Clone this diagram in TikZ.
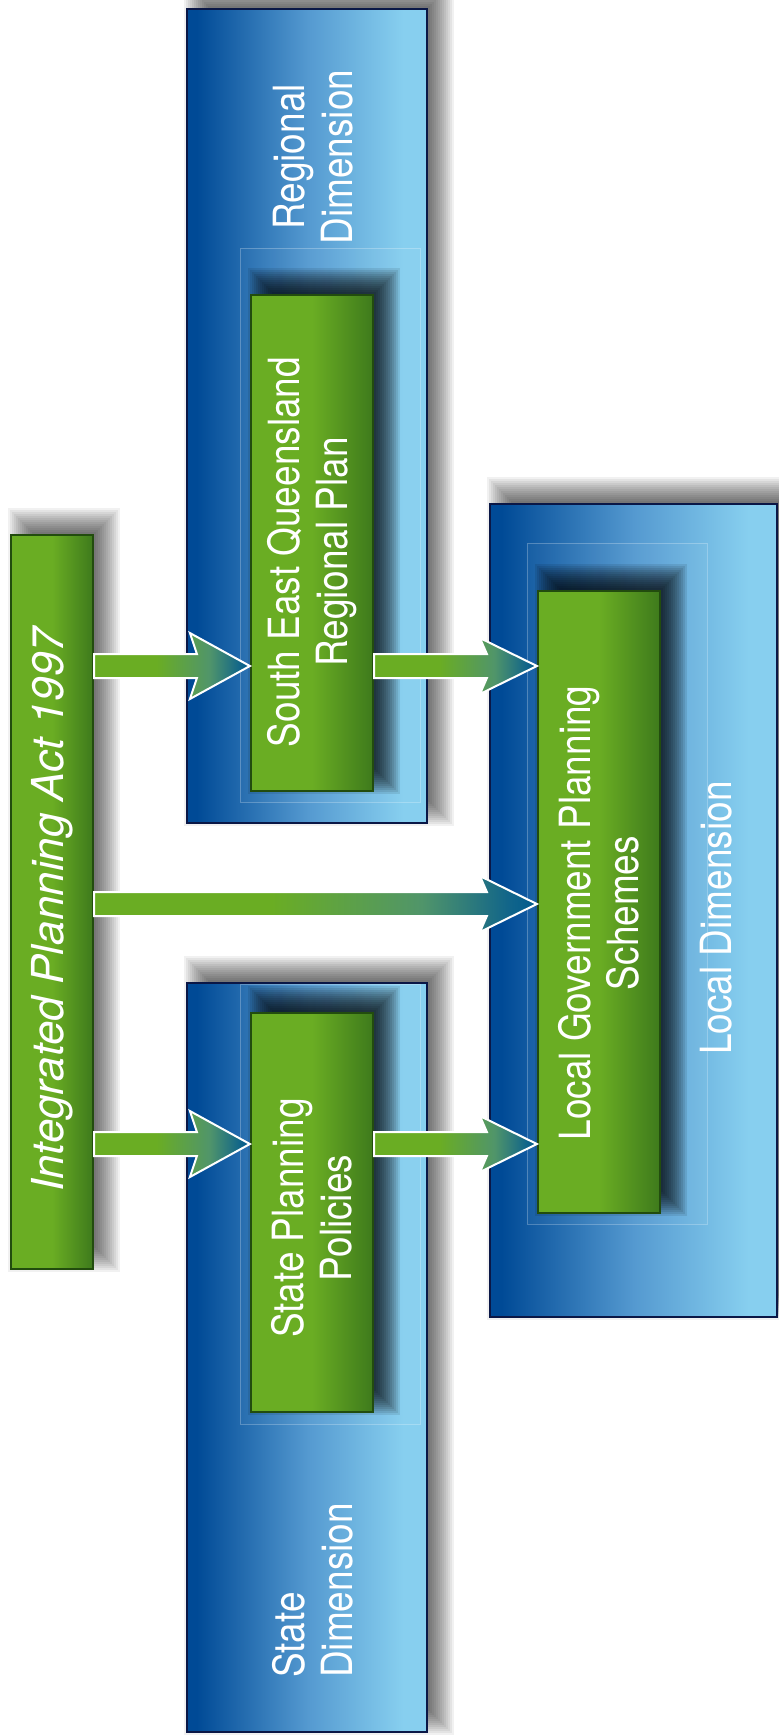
\documentclass[tikz,border=0pt]{standalone}
\usepackage{fontspec}
\setmainfont{TeX Gyre Heros}
\newfontfamily\narrowfont{TeX Gyre Heros}[FakeStretch=0.86]
\usepackage{tikz}
\usetikzlibrary{calc,positioning}
\definecolor{DeepBlue}{HTML}{004A96}
\definecolor{MidBlue}{HTML}{5499D0}
\definecolor{SkyBlue}{HTML}{87CFEF}
\definecolor{Navy}{HTML}{0A1746}
\definecolor{Leaf}{HTML}{6AAD23}
\definecolor{Moss}{HTML}{3E7A1C}
\definecolor{Forest}{HTML}{224C0E}
\definecolor{ArrowMid}{HTML}{50956A}
\definecolor{ArrowDeep}{HTML}{10648A}
\definecolor{Teal}{HTML}{005A8E}
\pgfdeclarehorizontalshading{blueshade}{100bp}{color(0bp)=(DeepBlue); color(27bp)=(DeepBlue); color(50bp)=(MidBlue); color(70bp)=(SkyBlue); color(100bp)=(SkyBlue)}
\pgfdeclarehorizontalshading{greenshade}{100bp}{color(0bp)=(Leaf); color(50bp)=(Leaf); color(75bp)=(Moss); color(100bp)=(Moss)}
\pgfdeclarehorizontalshading{arrowshade}{100bp}{color(0bp)=(Leaf); color(45bp)=(Leaf); color(62bp)=(ArrowMid); color(72bp)=(ArrowDeep); color(75bp)=(Teal); color(100bp)=(Teal)}
\pgfdeclarelayer{shadows}
\pgfdeclarelayer{panels}
\pgfdeclarelayer{boxshadows}
\pgfsetlayers{shadows,panels,boxshadows,main}
% soft shadow up and to the right of a node
\newcommand\softshadow[3]{%
  \foreach \k in {0,...,13}
    \fill[#2,opacity=#3] ($(#1.south west)+({-2+2*\k},{2-2*\k})$) rectangle ($(#1.north east)+({26-2*\k},{-26+2*\k})$);
}
% block arrow: from, to, head half width, head length
\newcommand\flowarrow[4]{%
  \shadedraw[shading=arrowshade,draw=white,line width=2pt,line join=miter]
    let \p1=(#1), \p2=(#2) in
    (\x1,\y1+12pt) -- (\x2-#4pt+7pt,\y1+12pt) -- (\x2-#4pt,\y1+#3pt) -- (\x2,\y1)
    -- (\x2-#4pt,\y1-#3pt) -- (\x2-#4pt+7pt,\y1-12pt) -- (\x1,\y1-12pt) -- cycle;
}

\begin{document}
\begin{tikzpicture}[
  x=1pt,
  y=-1pt,
  panel/.style={shade,shading=blueshade,draw=Navy,line width=2.5pt,inner sep=0pt},
  greenbox/.style={shade,shading=greenshade,draw=Forest,line width=2.2pt,inner sep=0pt},
  innerpanel/.style={draw=white,draw opacity=0.25,line width=1pt,fill=white,fill opacity=0.03},
  boxtext/.style={text=white,rotate=90,align=center,inner sep=0pt,font=\narrowfont\fontsize{43}{48}\selectfont},
  acttext/.style={text=white,rotate=90,inner sep=0pt,font=\itshape\fontsize{44}{48}\selectfont}
]
  \useasboundingbox (0,0) rectangle (779,1735);

  % Dimension panels
  \begin{pgfonlayer}{panels}
    \node[panel,minimum width=240,minimum height=814] (regional) at (307,416) {};
    \node[panel,minimum width=240,minimum height=749] (state) at (307,1357.5) {};
    \node[panel,minimum width=287,minimum height=813] (local) at (633.5,910.5) {};
    \draw[innerpanel] (240,248) rectangle (420,802);
    \draw[innerpanel] (240,984) rectangle (420,1424);
    \draw[innerpanel] (527,543) rectangle (707,1224);
  \end{pgfonlayer}

  % Planning instruments
  \node[greenbox,minimum width=82,minimum height=734] (ipa) at (52,902) {};
  \node[greenbox,minimum width=122,minimum height=496] (seq) at (312,543) {};
  \node[greenbox,minimum width=122,minimum height=399] (spp) at (312,1212.5) {};
  \node[greenbox,minimum width=122,minimum height=622] (lgps) at (599,902) {};

  \begin{pgfonlayer}{shadows}
    \fill[white] (0,0) rectangle (779,1735);
    \softshadow{regional}{black}{0.055}
    \softshadow{state}{black}{0.055}
    \softshadow{local}{black}{0.055}
  \end{pgfonlayer}
  \begin{pgfonlayer}{boxshadows}
    \softshadow{ipa}{black}{0.055}
    \softshadow{seq}{black}{0.09}
    \softshadow{spp}{black}{0.09}
    \softshadow{lgps}{black}{0.09}
  \end{pgfonlayer}

  % Labels
  \node[acttext] (ipatext) at (52,910) {Integrated Planning Act 1997};
  \node[boxtext] (seqtext) at (312,552) {South East Queensland\\Regional Plan};
  \node[boxtext] (spptext) at (312,1218) {State Planning\\Policies};
  \node[boxtext] (lgpstext) at (599,913) {Local Government Planning\\Schemes};
  \node[boxtext] (regionaltext) at (313,157) {Regional\\Dimension};
  \node[boxtext,align=left,anchor=west] (statetext) at (313,1678) {State\\Dimension};
  \node[boxtext] (localtext) at (716,918) {Local Dimension};

  % Arrows
  \coordinate (row1) at (0,666);
  \coordinate (row2) at (0,904);
  \coordinate (row3) at (0,1144);
  \flowarrow{ipa.east |- row1}{seq.west |- row1}{33}{60}
  \flowarrow{seq.east |- row1}{lgps.west |- row1}{28}{57}
  \flowarrow{ipa.east |- row2}{lgps.west |- row2}{28}{57}
  \flowarrow{ipa.east |- row3}{spp.west |- row3}{33}{60}
  \flowarrow{spp.east |- row3}{lgps.west |- row3}{28}{57}
\end{tikzpicture}
\end{document}
